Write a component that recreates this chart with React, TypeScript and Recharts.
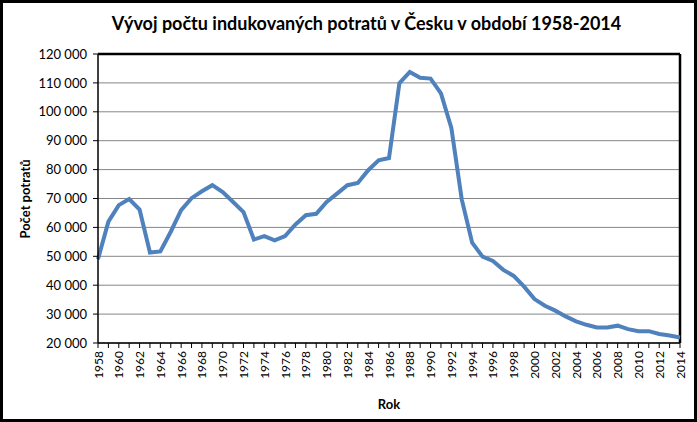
import React from 'react';
import { LineChart, Line, XAxis, YAxis, CartesianGrid, ReferenceLine } from 'recharts';

const years = [
  1958, 1959, 1960, 1961, 1962, 1963, 1964, 1965, 1966, 1967,
  1968, 1969, 1970, 1971, 1972, 1973, 1974, 1975, 1976, 1977,
  1978, 1979, 1980, 1981, 1982, 1983, 1984, 1985, 1986, 1987,
  1988, 1989, 1990, 1991, 1992, 1993, 1994, 1995, 1996, 1997,
  1998, 1999, 2000, 2001, 2002, 2003, 2004, 2005, 2006, 2007,
  2008, 2009, 2010, 2011, 2012, 2013, 2014,
];

const abortions = [
  49000, 62000, 67700, 69800, 66200, 51300, 51700, 58500, 66000, 70100,
  72500, 74600, 72200, 68800, 65300, 55800, 57000, 55500, 57000, 61000,
  64200, 64700, 68800, 71700, 74600, 75400, 79800, 83200, 84000, 109900,
  113800, 111800, 111500, 106400, 94400, 69700, 54700, 49900, 48400, 45300,
  43200, 39500, 35200, 32900, 31200, 29200, 27500, 26300, 25400, 25400,
  26000, 24800, 24100, 24100, 23100, 22600, 21900,
];

const yTicks = [20000, 30000, 40000, 50000, 60000, 70000, 80000, 90000, 100000, 110000, 120000];

const title = 'Vývoj počtu indukovaných potratů v Česku v období 1958-2014';
const xTitle = 'Rok';
const yTitle = 'Počet potratů';

const data = years.map((year, i) => ({ year, v: abortions[i] }));

const FONT = 'Lato, "Open Sans", sans-serif';

const fmt = (n: number) => {
  const s = String(n);
  return s.length > 3 ? s.slice(0, s.length - 3) + '\u00a0' + s.slice(s.length - 3) : s;
};

const XTick = (props: any) => {
  const { x, y, payload } = props;
  if (payload.value % 2 !== 0) return <g />;
  const ty = y + 1;
  return (
    <text
      x={x}
      y={ty}
      transform={`rotate(-90, ${x}, ${ty})`}
      textAnchor="end"
      dominantBaseline="central"
      fontSize={12}
      fontFamily={FONT}
      fill="#000"
    >
      {payload.value}
    </text>
  );
};

const YTitle = () => (
  <text
    x={25}
    y={199}
    transform="rotate(-90, 25, 199)"
    textAnchor="middle"
    dominantBaseline="central"
    fontSize={13}
    fontWeight="bold"
    fontFamily={FONT}
    fill="#000"
  >
    {yTitle}
  </text>
);

export default function App() {
  return (
    <div style={{ position: 'relative', width: 697, height: 422, background: '#fff' }}>
      <style>{'body{margin:0;}'}</style>
      <LineChart
        width={697}
        height={422}
        data={data}
        margin={{ top: 54, right: 17, bottom: 0, left: 0 }}
      >
        <CartesianGrid vertical={false} stroke="#868686" strokeWidth={1} />
        <XAxis
          dataKey="year"
          type="number"
          domain={[1958, 2014]}
          ticks={years}
          interval={0}
          height={79}
          tick={<XTick />}
          tickSize={5}
          tickLine={{ stroke: '#000' }}
          axisLine={{ stroke: '#000', strokeWidth: 1.5 }}
          label={{ value: xTitle, position: 'insideBottom', offset: 13, fontSize: 13, fontWeight: 'bold', fontFamily: FONT, fill: '#000' }}
        />
        <YAxis
          type="number"
          domain={[20000, 120000]}
          ticks={yTicks}
          interval={0}
          width={98}
          tickFormatter={fmt}
          tickSize={5}
          tickMargin={6}
          tick={{ fontSize: 13, fontFamily: FONT, fill: '#000' }}
          tickLine={{ stroke: '#000' }}
          axisLine={{ stroke: '#000', strokeWidth: 1.5 }}
          label={{ content: () => <YTitle /> }}
        />
        <ReferenceLine y={120000} stroke="#000" strokeWidth={2.5} />
        <ReferenceLine x={2014} stroke="#000" strokeWidth={2.5} />
        <Line
          type="linear"
          dataKey="v"
          stroke="#4F81BD"
          strokeWidth={4}
          dot={false}
          isAnimationActive={false}
        />
      </LineChart>
      <div
        style={{
          position: 'absolute',
          left: 0,
          top: 11,
          width: 733,
          textAlign: 'center',
          fontFamily: FONT,
          fontWeight: 'bold',
          fontSize: 18,
          lineHeight: '24px',
          color: '#000',
          whiteSpace: 'nowrap',
        }}
      >
        {title}
      </div>
      <div
        style={{
          position: 'absolute',
          left: 0,
          top: 0,
          width: 697,
          height: 422,
          boxSizing: 'border-box',
          border: '3px solid #000',
          pointerEvents: 'none',
        }}
      />
    </div>
  );
}
